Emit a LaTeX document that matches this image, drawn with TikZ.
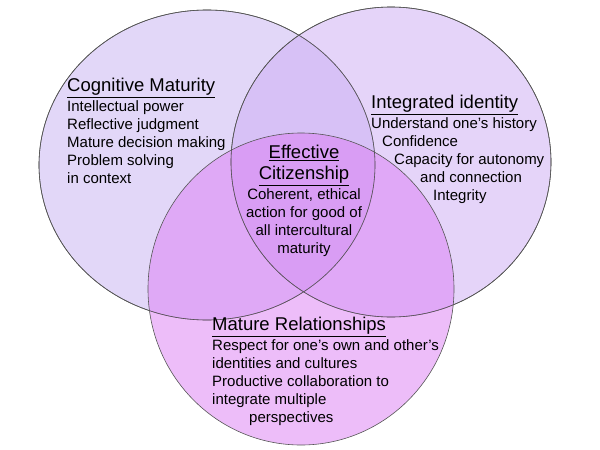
\documentclass[tikz,border=0pt]{standalone}
\usepackage{fontspec}
\setmainfont{Liberation Sans}
\definecolor{cogfill}{HTML}{C6B0F2}
\definecolor{idfill}{HTML}{CCAAF4}
\definecolor{relfill}{HTML}{DC7CF4}
\definecolor{rim}{HTML}{555555}
\newcommand{\ttl}[1]{{\fontsize{18.5}{21}\selectfont\underline{#1}}}
\tikzset{
    blob/.style={draw=rim, line width=0.6pt, fill opacity=0.5},
    txt/.style={font=\fontsize{15}{18}\selectfont, inner sep=0pt, align=left},
}
\begin{document}
\begin{tikzpicture}[x=1pt, y=-1pt]
    \useasboundingbox (0,0) rectangle (600,450);

    % three overlapping sets
    \draw[blob, fill=cogfill] (207,165) ellipse (168 and 155);
    \draw[blob, fill=idfill] (391,162) ellipse (160 and 155);
    \draw[blob, fill=relfill] (301,289) ellipse (153 and 156);
    % outlines again on top
    \draw[rim, line width=0.6pt] (207,165) ellipse (168 and 155);
    \draw[rim, line width=0.6pt] (391,162) ellipse (160 and 155);

    % labels
    \node[txt, anchor=north west] (cog) at (67,78) {\ttl{Cognitive Maturity}\\[2pt]
        Intellectual power\\ Reflective judgment\\ Mature decision making\\
        Problem solving\\ in context};
    \node[txt, anchor=north west] (ident) at (371,95) {\ttl{Integrated identity}\\[2pt]
        Understand one’s history\\ \hspace{11pt}Confidence\\
        \hspace{23pt}Capacity for autonomy\\ \hspace{49pt}and connection\\
        \hspace{62pt}Integrity};
    \node[txt, align=center, anchor=north] (civ) at (304,145) {\ttl{Effective}\\[3pt]
        \ttl{Citizenship}\\[2pt] Coherent, ethical\\ action for good of\\
        all intercultural\\ maturity};
    \node[txt, anchor=north west] (rel) at (212,317) {\ttl{Mature Relationships}\\[2pt]
        Respect for one’s own and other’s\\ identities and cultures\\
        Productive collaboration to\\ integrate multiple\\
        \hspace{37pt}perspectives};
\end{tikzpicture}
\end{document}
